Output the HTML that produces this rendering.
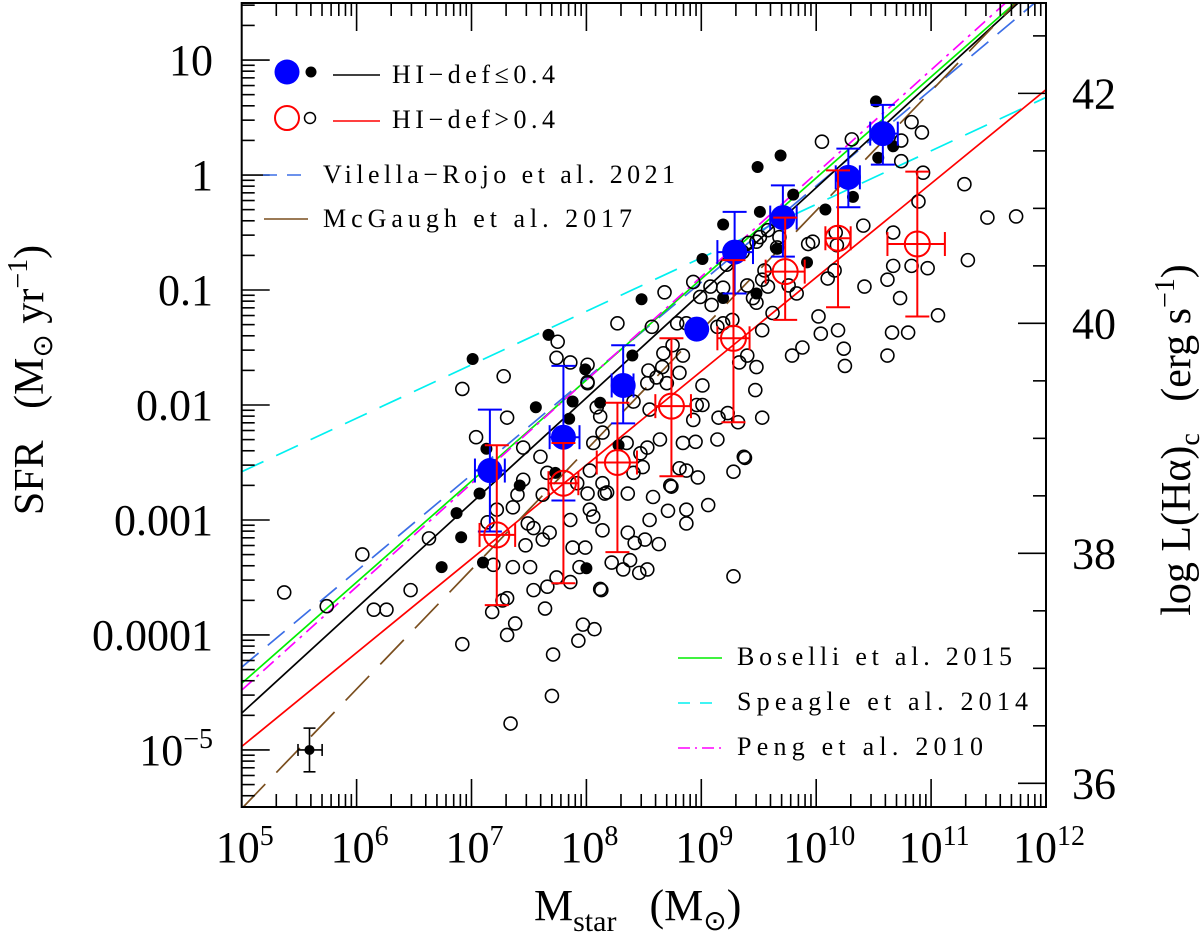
<!DOCTYPE html>
<html><head><meta charset="utf-8"><title>SFR vs Mstar</title>
<style>
html,body{margin:0;padding:0;background:#fff;}
svg{display:block;font-family:"Liberation Serif",serif;}
text{white-space:pre;}
</style></head>
<body>
<svg id="chart" width="1200" height="943" viewBox="0 0 1200 943" xmlns="http://www.w3.org/2000/svg" xml:space="preserve">
<g id="g-lines"></g>
<g id="g-open"></g>
<g id="g-filled"></g>
<g id="g-avg"></g>
<g id="g-axes"></g>
<g id="g-legend">
  <circle cx="287" cy="72" r="12.5" fill="#0000ff"/>
  <circle cx="311" cy="72" r="5.5" fill="#000"/>
  <line x1="333" y1="75" x2="380" y2="75" stroke="#000" stroke-width="1.6"/>
  <text x="392" y="83" font-size="26" textLength="163" lengthAdjust="spacing">HI−def≤0.4</text>
  <circle cx="287" cy="118" r="12" fill="none" stroke="#ff0000" stroke-width="2"/>
  <circle cx="310" cy="118" r="5.5" fill="none" stroke="#000" stroke-width="1.5"/>
  <line x1="333" y1="121" x2="380" y2="121" stroke="#ff0000" stroke-width="1.6"/>
  <text x="392" y="128" font-size="26" textLength="163" lengthAdjust="spacing">HI−def&gt;0.4</text>
  <line x1="263" y1="175" x2="311" y2="175" stroke="#3b6ee6" stroke-width="1.6" stroke-dasharray="14,10"/>
  <text x="323" y="183" font-size="26" textLength="352" lengthAdjust="spacing">Vilella−Rojo et al. 2021</text>
  <line x1="264" y1="219" x2="308" y2="219" stroke="#7a4e1e" stroke-width="1.6"/>
  <text x="323" y="227" font-size="26" textLength="309" lengthAdjust="spacing">McGaugh et al. 2017</text>
  <line x1="678" y1="658" x2="722" y2="658" stroke="#00ee00" stroke-width="1.6"/>
  <text x="737" y="665" font-size="26" textLength="275" lengthAdjust="spacing">Boselli et al. 2015</text>
  <line x1="678" y1="703" x2="722" y2="703" stroke="#00f0f0" stroke-width="1.6" stroke-dasharray="12,10"/>
  <text x="737" y="710" font-size="26" textLength="291" lengthAdjust="spacing">Speagle et al. 2014</text>
  <line x1="678" y1="748" x2="722" y2="748" stroke="#ff00ff" stroke-width="1.6" stroke-dasharray="12,5,2,5"/>
  <text x="737" y="755" font-size="26" textLength="246" lengthAdjust="spacing">Peng et al. 2010</text>
</g>
<text x="534" y="920" font-size="44">M<tspan font-size="30" dy="11">star</tspan><tspan dy="-11">   (M</tspan><tspan font-size="28" dy="10">⊙</tspan><tspan dy="-10">)</tspan></text>
<text transform="translate(43,380) rotate(-90)" text-anchor="middle" font-size="42">SFR   (M<tspan font-size="28" dy="9">⊙</tspan><tspan dy="-9"> yr</tspan><tspan font-size="28" dy="-16">−1</tspan><tspan dy="16">)</tspan></text>
<text transform="translate(1190,440) rotate(-90)" text-anchor="middle" font-size="42">log L(Hα)<tspan font-size="28" dy="9">c</tspan><tspan dy="-9">   (erg s</tspan><tspan font-size="28" dy="-16">−1</tspan><tspan dy="16">)</tspan></text>
</svg>
<script>
// ---- data ----
const openM = [7.75,7.74,7.28,6.92,7.31,7.04,8.01,7.86,8.01,8.09,8.12,7.45,7.60,7.66,7.45,7.40,7.62,7.92,8.01,7.36,7.22,7.14,8.14,8.18,8.03,7.86,7.49,7.54,7.68,7.62,7.47,7.88,7.99,7.94,8.22,8.32,7.51,7.36,7.19,7.74,7.66,7.86,7.54,8.12,7.27,7.31,7.18,7.64,7.38,7.31,7.97,8.07,7.93,6.92,7.71,7.70,7.34,6.63,6.47,6.15,6.26,6.05,5.74,5.37,
10.05,10.92,10.83,10.74,10.74,10.31,11.29,11.49,11.32,10.89,10.41,10.67,10.93,10.67,10.83,10.97,10.42,10.62,10.73,11.06,10.66,10.80,10.62,10.10,10.16,10.18,10.17,9.97,9.93,10.02,10.04,10.19,10.24,10.25,9.88,9.79,9.83,9.76,9.58,9.62,9.53,9.45,9.48,9.40,9.53,9.55,9.66,9.68,9.58,9.51,9.48,9.41,9.36,9.32,9.22,9.19,9.08,8.99,8.93,9.09,9.27,9.19,9.14,9.40,9.48,9.33,9.47,9.53,9.32,9.23,9.15,9.14,9.38,9.28,8.97,8.95,8.84,8.81,8.87,8.93,9.01,8.96,9.01,8.81,8.84,8.75,8.67,8.66,8.61,8.54,8.53,8.41,8.55,8.64,8.53,8.47,8.49,8.41,8.35,8.14,8.06,8.27,8.68,8.57,8.79,8.87,8.70,8.01,8.03,8.73,9.37,9.06,8.87,8.87,8.71,8.74,8.58,8.55,8.63,8.51,8.42,8.38,8.46,8.53,8.14,8.36,9.28,8.13,8.36,8.16,8.06,11.74];
const openS = [-1.45,-1.59,-1.75,-1.86,-2.11,-2.28,-1.65,-1.63,-1.80,-2.02,-2.10,-2.37,-2.45,-2.59,-2.65,-2.78,-2.78,-2.68,-2.77,-2.89,-2.91,-3.02,-2.68,-2.76,-2.91,-3.00,-3.03,-3.07,-3.11,-3.17,-3.22,-3.24,-3.24,-3.41,-3.37,-3.43,-3.41,-3.41,-3.39,-3.50,-3.58,-3.54,-3.61,-3.60,-3.70,-3.68,-3.80,-3.77,-3.90,-4.00,-3.91,-3.95,-4.05,-4.08,-4.17,-4.53,-4.77,-3.16,-3.61,-3.78,-3.78,-3.30,-3.75,-3.63,
0.29,0.37,0.46,0.30,0.12,0.31,-0.08,-0.37,-0.74,-0.23,-0.44,-0.50,0.02,-0.79,-0.79,-0.81,-0.97,-0.91,-1.07,-1.22,-1.37,-1.37,-1.57,-0.90,-0.83,-0.61,-0.50,-0.58,-0.60,-1.23,-1.38,-1.35,-1.51,-1.66,-1.50,-1.57,-1.03,-0.96,-0.97,-1.20,-1.35,-1.07,-1.11,-0.96,-0.91,-0.83,-0.63,-0.54,-0.48,-0.54,-0.58,-0.59,-0.67,-0.63,-0.78,-0.98,-0.97,-1.06,-0.93,-1.13,-1.26,-1.29,-1.32,-1.57,-1.67,-1.63,-1.87,-2.11,-2.15,-2.07,-2.11,-2.30,-2.46,-2.58,-2.63,-2.32,-2.33,-2.55,-2.57,-2.13,-2.00,-2.00,-1.83,-1.72,-1.57,-1.48,-1.55,-1.67,-1.76,-1.70,-1.81,-1.97,-2.04,-2.30,-2.37,-2.42,-2.54,-2.59,-2.33,-2.24,-2.33,-1.29,-1.02,-1.32,-1.29,-1.29,-1.81,-1.81,-2.57,-2.70,-2.45,-2.87,-2.91,-3.03,-2.92,-2.71,-2.80,-3.00,-3.21,-3.17,-3.20,-3.35,-3.46,-3.43,-3.09,-3.11,-3.49,-3.61,-2.77,-2.77,-2.97,-0.36];
const filledM = [7.67,7.01,7.56,7.88,7.85,7.13,7.42,7.07,6.87,6.91,6.74,7.10,8.00,7.73,7.99,10.52,9.49,9.69,9.19,9.51,9.01,8.48,8.40,10.32,10.08,10.54,10.67,9.92,9.48,9.66,9.19,9.80,8.12,8.28];
const filledS = [-1.39,-1.60,-2.02,-1.97,-2.12,-2.38,-2.70,-2.77,-2.94,-3.15,-3.41,-3.37,-3.42,-2.59,-1.69,0.64,0.07,0.17,-0.43,-0.32,-0.73,-1.08,-1.57,-0.19,-0.30,0.15,0.25,-0.76,-1.03,-0.64,-1.07,-0.17,-1.98,-2.35];
const blueM   = [7.16,7.80,8.32,8.96,9.29,9.71,10.28,10.58];
const blueS   = [-2.57,-2.28,-1.83,-1.34,-0.67,-0.37,-0.02,0.36];
const blueSlo = [-3.10,-2.83,-2.16,null,-1.03,-0.71,-0.28,0.09];
const blueShi = [-2.04,-1.66,-1.48,null,-0.32,-0.09,0.23,0.61];
const blueMlo = [7.03,7.68,8.22,null,9.14,9.60,10.17,10.47];
const blueMhi = [7.29,7.94,8.41,null,9.45,9.83,10.38,10.71];
const redM   = [7.22,7.80,8.27,8.74,9.28,9.73,10.19,10.88];
const redS   = [-3.13,-2.68,-2.50,-2.01,-1.42,-0.84,-0.55,-0.60];
const redSlo = [-3.74,-3.55,-3.28,-2.62,-2.15,-1.26,-1.15,-1.23];
const redShi = [-2.35,-2.33,-1.98,-1.42,-0.74,-0.37,0.04,0.03];
const redMlo = [7.07,7.67,8.09,8.60,9.14,9.56,10.08,10.62];
const redMhi = [7.38,7.93,8.44,8.91,9.42,9.90,10.30,11.12];
const refErrM = [5.59], refErrS = [-5.00], refErrSlo=[-5.19], refErrShi=[-4.81], refErrMlo=[5.49], refErrMhi=[5.70];
const lineNames = ['speagle','vilella','boselli','peng','black-fit','red-fit','mcgaugh'];
const lineSlopes = [0.465,0.837,0.879,0.899,0.914,0.816,1.04];
const lineAt1e5  = [-2.58,-4.28,-4.42,-4.48,-4.68,-4.97,-5.51];
const xTickExp = [5,6,7,8,9,10,11,12];
const yTickLabels = ['10','1','0.1','0.01','0.001','0.0001'];
const yTickVals = [1,0,-1,-2,-3,-4];
const y2TickVals = [36,38,40,42];
const lumOffset = 41.29;

// ---- axes functions ----
const X0=241.7, X1=1046, Y0=3, Y1=807;
const xMin=5, xMax=12, yTop=1.496, yBot=-5.496;
function X(m){return X0+(m-xMin)*(X1-X0)/(xMax-xMin);}
function Y(s){return Y0+(yTop-s)*(Y1-Y0)/(yTop-yBot);}
const NS='http://www.w3.org/2000/svg';
function mk(tag,attrs,parent){const e=document.createElementNS(NS,tag);for(const k in attrs)e.setAttribute(k,attrs[k]);parent.appendChild(e);return e;}

const defs=mk('defs',{},document.getElementById('chart'));
const cp=mk('clipPath',{id:'plotclip'},defs);
mk('rect',{x:X0,y:Y0,width:X1-X0,height:Y1-Y0},cp);

const gl=document.getElementById('g-lines');
gl.setAttribute('clip-path','url(#plotclip)');
const lineStyles={speagle:['#00f0f0','24,14'],vilella:['#3b6ee6','22,12'],boselli:['#00ee00',''],peng:['#ff00ff','14,6,3,6'],'black-fit':['#000',''],'red-fit':['#ff0000',''],mcgaugh:['#7a4e1e','34,16']};
lineNames.forEach((n,i)=>{
  const st=lineStyles[n];
  const l=mk('line',{x1:X(xMin),y1:Y(lineAt1e5[i]),x2:X(xMax),y2:Y(lineAt1e5[i]+lineSlopes[i]*(xMax-xMin)),stroke:st[0],'stroke-width':1.7,'stroke-dasharray':st[1]},gl);
  
  
});

const go=document.getElementById('g-open');
openM.forEach((m,i)=>{
  const c=mk('circle',{cx:X(m),cy:Y(openS[i]),r:6.5,fill:'none',stroke:'#000','stroke-width':1.6},go);
  
  
});
const gf=document.getElementById('g-filled');
filledM.forEach((m,i)=>{
  const c=mk('circle',{cx:X(m),cy:Y(filledS[i]),r:6,fill:'#000'},gf);
  
  
});

const ga=document.getElementById('g-avg');
function errbar(m,s,slo,shi,mlo,mhi,col,w,cap){
  const g=mk('g',{stroke:col,'stroke-width':w,fill:'none'},ga);
  if(slo!==null){
    mk('line',{x1:X(m),y1:Y(slo),x2:X(m),y2:Y(shi)},g);
    mk('line',{x1:X(m)-cap,y1:Y(slo),x2:X(m)+cap,y2:Y(slo)},g);
    mk('line',{x1:X(m)-cap,y1:Y(shi),x2:X(m)+cap,y2:Y(shi)},g);
  }
  if(mlo!==null){
    mk('line',{x1:X(mlo),y1:Y(s),x2:X(mhi),y2:Y(s)},g);
    mk('line',{x1:X(mlo),y1:Y(s)-cap,x2:X(mlo),y2:Y(s)+cap},g);
    mk('line',{x1:X(mhi),y1:Y(s)-cap,x2:X(mhi),y2:Y(s)+cap},g);
  }
  return g;
}
blueM.forEach((m,i)=>{
  const g=errbar(m,blueS[i],blueSlo[i],blueShi[i],blueMlo[i],blueMhi[i],'#0000ff',2,12);
  
  
  const c=mk('circle',{cx:X(m),cy:Y(blueS[i]),r:12.5,fill:'#0000ff'},ga);
  
  
});
redM.forEach((m,i)=>{
  const g=errbar(m,redS[i],redSlo[i],redShi[i],redMlo[i],redMhi[i],'#ff0000',2,12);
  
  
  const c=mk('circle',{cx:X(m),cy:Y(redS[i]),r:12.5,fill:'none',stroke:'#ff0000','stroke-width':2},ga);
  
  
});
refErrM.forEach((m,i)=>{
  const g=errbar(m,refErrS[i],refErrSlo[i],refErrShi[i],refErrMlo[i],refErrMhi[i],'#000',1.6,6);
  
  
  const c=mk('circle',{cx:X(m),cy:Y(refErrS[i]),r:5,fill:'#000'},ga);
  
  
});

const gx=document.getElementById('g-axes');
const frame=mk('rect',{x:X0,y:Y0,width:X1-X0,height:Y1-Y0,fill:'none',stroke:'#000','stroke-width':2},gx);


const MAJ=28, MIN=13;
for(let e=xMin;e<xMax;e++){
  for(let k=1;k<=9;k++){
    const v=e+Math.log10(k); const x=X(v); const L=k===1?MAJ:MIN;
    if(k===1 && e===xMin) continue;
    mk('line',{x1:x,y1:Y1,x2:x,y2:Y1-L,stroke:'#000','stroke-width':1.6},gx);
    mk('line',{x1:x,y1:Y0,x2:x,y2:Y0+L,stroke:'#000','stroke-width':1.6},gx);
  }
}
xTickExp.forEach(e=>{
  const t=mk('text',{x:X(e)+3,y:862,'font-size':44,'text-anchor':'middle'},gx);
  t.textContent='10';
  const s=mk('tspan',{'font-size':28,dy:-17},t); s.textContent=String(e);
  
  
});
for(let e=-6;e<=1;e++){
  for(let k=1;k<=9;k++){
    const v=e+Math.log10(k); if(v<yBot||v>yTop) continue;
    const y=Y(v); const L=k===1?MAJ:MIN;
    mk('line',{x1:X0,y1:y,x2:X0+L,y2:y,stroke:'#000','stroke-width':1.6},gx);
  }
}
yTickVals.forEach((v,i)=>{
  const t=mk('text',{x:213,y:Y(v)+15,'font-size':44,'text-anchor':'end'},gx);
  t.textContent=yTickLabels[i];
  
  
});
{
  const t=mk('text',{x:213,y:Y(-5)+15,'font-size':44,'text-anchor':'end'},gx);
  t.textContent='10';
  const s=mk('tspan',{'font-size':28,dy:-17},t); s.textContent='−5';
  
  
}
for(let L=35.5;L<=43;L+=0.5){
  const s=L-lumOffset; if(s<yBot||s>yTop) continue;
  const y=Y(s); const len=(Math.abs(L%2)<1e-6)?MAJ:MIN;
  mk('line',{x1:X1,y1:y,x2:X1-len,y2:y,stroke:'#000','stroke-width':1.6},gx);
}
y2TickVals.forEach(v=>{
  const t=mk('text',{x:1072,y:Y(v-lumOffset)+15,'font-size':44},gx);
  t.textContent=String(v);
  
  
});
</script>
</body></html>
